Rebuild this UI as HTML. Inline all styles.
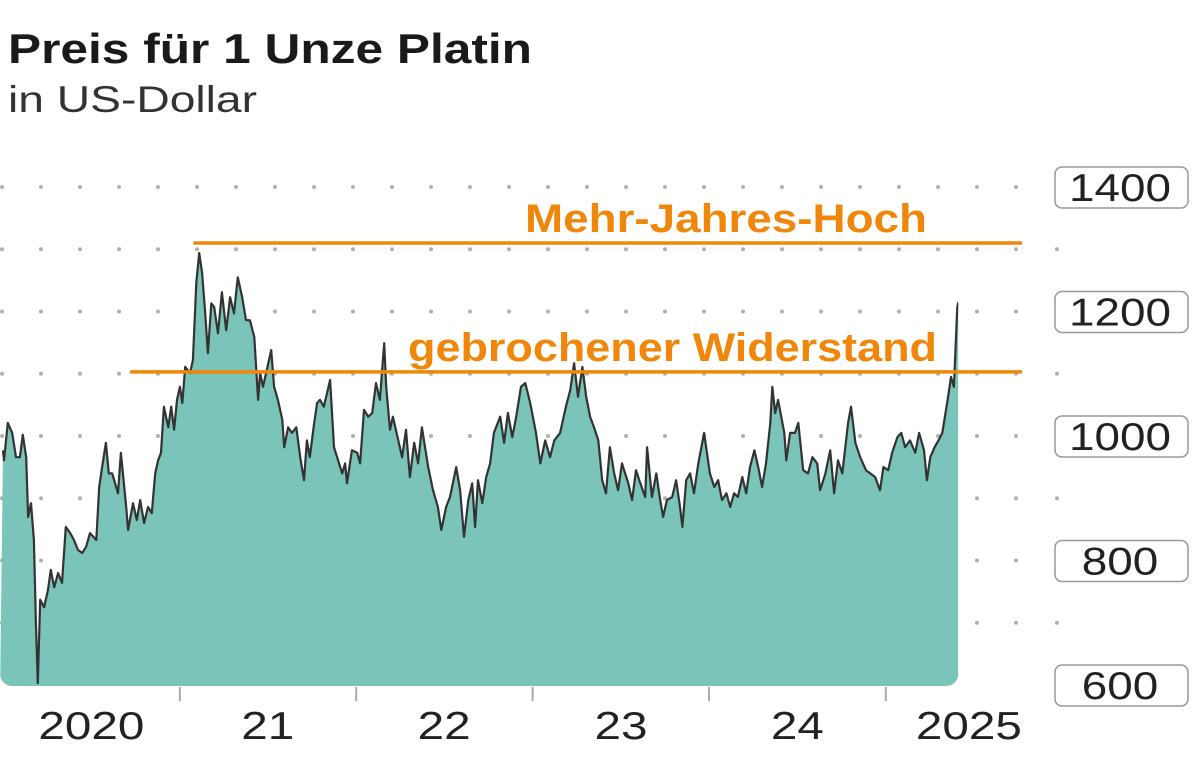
<!DOCTYPE html>
<html><head><meta charset="utf-8"><style>
html,body{margin:0;padding:0;background:#fff;width:1200px;height:765px;overflow:hidden}
svg{display:block;font-family:"Liberation Sans",sans-serif}
</style></head><body>
<svg id="chart" width="1200" height="765" viewBox="0 0 1200 765">
<text x="8" y="63" font-size="42" font-weight="bold" fill="#1a1a1a" textLength="524" lengthAdjust="spacingAndGlyphs">Preis für 1 Unze Platin</text>
<text x="8" y="112" font-size="37" fill="#333" textLength="249" lengthAdjust="spacingAndGlyphs">in US-Dollar</text>
<g id="grid"></g>
<g id="plot"></g>
<g id="axes"></g>
</svg>
<script>
const days = [0,2,10,19,27,35,41,48,52,58,64,68,72,77,85,93,99,106,114,122,130,139,147,155,164,172,180,193,199,205,213,219,226,232,238,244,255,259,269,277,284,292,300,308,315,321,327,333,342,348,354,360,366,371,377,387,393,400,406,412,418,424,431,437,445,453,462,470,478,486,495,503,511,520,528,532,538,546,555,561,569,578,582,590,598,607,615,623,629,635,644,650,656,664,677,685,702,708,712,722,733,739,747,756,764,772,780,789,793,801,807,818,826,834,842,851,859,867,880,890,900,907,917,925,938,946,954,963,971,977,983,992,1000,1008,1016,1029,1037,1045,1054,1062,1072,1081,1091,1103,1112,1122,1132,1141,1153,1165,1174,1182,1190,1199,1207,1215,1223,1232,1240,1248,1256,1265,1273,1281,1294,1302,1310,1319,1329,1333,1343,1352,1360,1366,1374,1385,1393,1401,1406,1414,1422,1430,1439,1451,1463,1472,1480,1488,1497,1505,1513,1521,1530,1538,1546,1555,1563,1571,1579,1588,1592,1598,1604,1617,1621,1629,1639,1646,1656,1666,1675,1685,1691,1702,1712,1720,1728,1737,1749,1755,1764,1774,1786,1795,1805,1815,1822,1832,1840,1851,1859,1867,1877,1888,1896,1906,1912,1919,1928,1936,1944,1956,1962,1968,1975,1977];
const prices = [977,961,1021,1005,966,966,1002,966,870,892,833,700,603,737,725,752,785,757,780,764,854,844,833,817,812,822,844,833,918,950,989,940,940,924,908,973,886,849,892,865,897,860,886,876,940,961,973,1047,1014,1047,1010,1058,1079,1053,1111,1101,1122,1246,1294,1262,1202,1133,1213,1207,1165,1231,1170,1223,1197,1255,1223,1186,1186,1159,1058,1101,1079,1106,1138,1079,1058,1026,982,1014,1005,1014,966,929,993,966,1021,1053,1058,1047,1090,982,940,956,924,977,973,956,1042,1031,1037,1085,1058,1149,1079,1010,1031,993,966,1010,934,989,956,1014,950,913,886,849,886,902,950,913,838,897,924,854,929,892,934,956,1005,1031,989,1037,998,1031,1079,1085,1053,1005,956,993,966,993,1005,1047,1074,1117,1063,1111,1063,1031,1014,993,929,908,982,940,913,956,924,897,945,924,902,982,902,940,897,870,897,902,929,886,854,929,940,908,956,1005,940,918,929,897,908,886,908,902,934,908,950,977,950,918,956,1021,1079,1037,1058,1005,961,1005,1005,1021,945,940,966,956,913,940,977,908,961,940,1021,1047,989,966,945,940,934,913,950,945,973,998,1005,982,993,973,1005,977,929,966,982,993,1005,1063,1095,1079,1207,1215];
const yTicks = [600,800,1000,1200,1400];
const xTickDays = [366,731,1096,1461,1827];
const xLabels = ["2020","21","22","23","24","2025"];
const xLabelDays = [183,548,913,1279,1644,1999];
const refValues = [1310,1103];
const refLabels = ["Mehr-Jahres-Hoch","gebrochener Widerstand"];
const refStartDays = [394,263];

const NS="http://www.w3.org/2000/svg";
const xS = d => 3 + d*0.4832;
const yS = v => 685 - (v-600)*0.6225;
function mk(tag, parent, attrs){const e=document.createElementNS(NS,tag);for(const k in attrs)e.setAttribute(k,attrs[k]);parent.appendChild(e);return e;}

const grid=document.getElementById('grid');
for(let v=700; v<=1400; v+=100){
  for(let x=2; x<=1020; x+=39){
    const c=mk('circle',grid,{cx:x,cy:yS(v),r:2,fill:'#b0b0b0'});
    
    
  }
  if(v%200===100){
    const c=mk('circle',grid,{cx:1057,cy:yS(v),r:2,fill:'#b0b0b0'});
    
    
  }
}

const plot=document.getElementById('plot');
const lastX = xS(days[days.length-1]);
const defs=mk('defs',plot,{});
const cp=mk('clipPath',defs,{id:'areaclip'});
mk('rect',cp,{x:0,y:0,width:lastX,height:686,rx:12});
let d='';
days.forEach((t,i)=>{d+=(i?'L':'M')+xS(t).toFixed(1)+','+yS(prices[i]).toFixed(1);});
const area=mk('path',plot,{d:d+'L'+lastX+',700L0,700Z',fill:'#7ac4b9','clip-path':'url(#areaclip)'});


const line=mk('path',plot,{d:d,fill:'none',stroke:'#333',"stroke-width":2.2,"stroke-linejoin":"round",'clip-path':'url(#areaclip)'});



const refLens=[402,529];
refValues.forEach((v,i)=>{
  const l=mk('line',plot,{x1:xS(refStartDays[i]),x2:1022,y1:yS(v),y2:yS(v),stroke:'#f0870a',"stroke-width":3.5});
  
  
  const t=mk('text',plot,{x:i===0?927:937,y:yS(v)-11,"text-anchor":"end","font-size":40,"font-weight":"bold",fill:'#f0870a',textLength:refLens[i],lengthAdjust:'spacingAndGlyphs'});
  t.textContent=refLabels[i];
  
  
});

const axes=document.getElementById('axes');
yTicks.forEach(v=>{
  const r=mk('rect',axes,{x:1055,y:yS(v)-20,width:133,height:41,rx:7,fill:'#fff',stroke:'#999',"stroke-width":1.5});
  
  
  const s=String(v);
  const t=mk('text',axes,{x:1120,y:yS(v)+14,"text-anchor":"middle","font-size":39,fill:'#222',textLength:s.length*25.5,lengthAdjust:'spacingAndGlyphs'});
  t.textContent=s;
  
  
});
xTickDays.forEach(t=>{
  const l=mk('line',axes,{x1:xS(t),x2:xS(t),y1:687,y2:701,stroke:'#aaa',"stroke-width":2});
  
  
});
xLabels.forEach((s,i)=>{
  const t=mk('text',axes,{x:xS(xLabelDays[i]),y:739,"text-anchor":"middle","font-size":39,fill:'#222',textLength:s.length*26.5,lengthAdjust:'spacingAndGlyphs'});
  t.textContent=s;
  
  
});
</script>
</body></html>
